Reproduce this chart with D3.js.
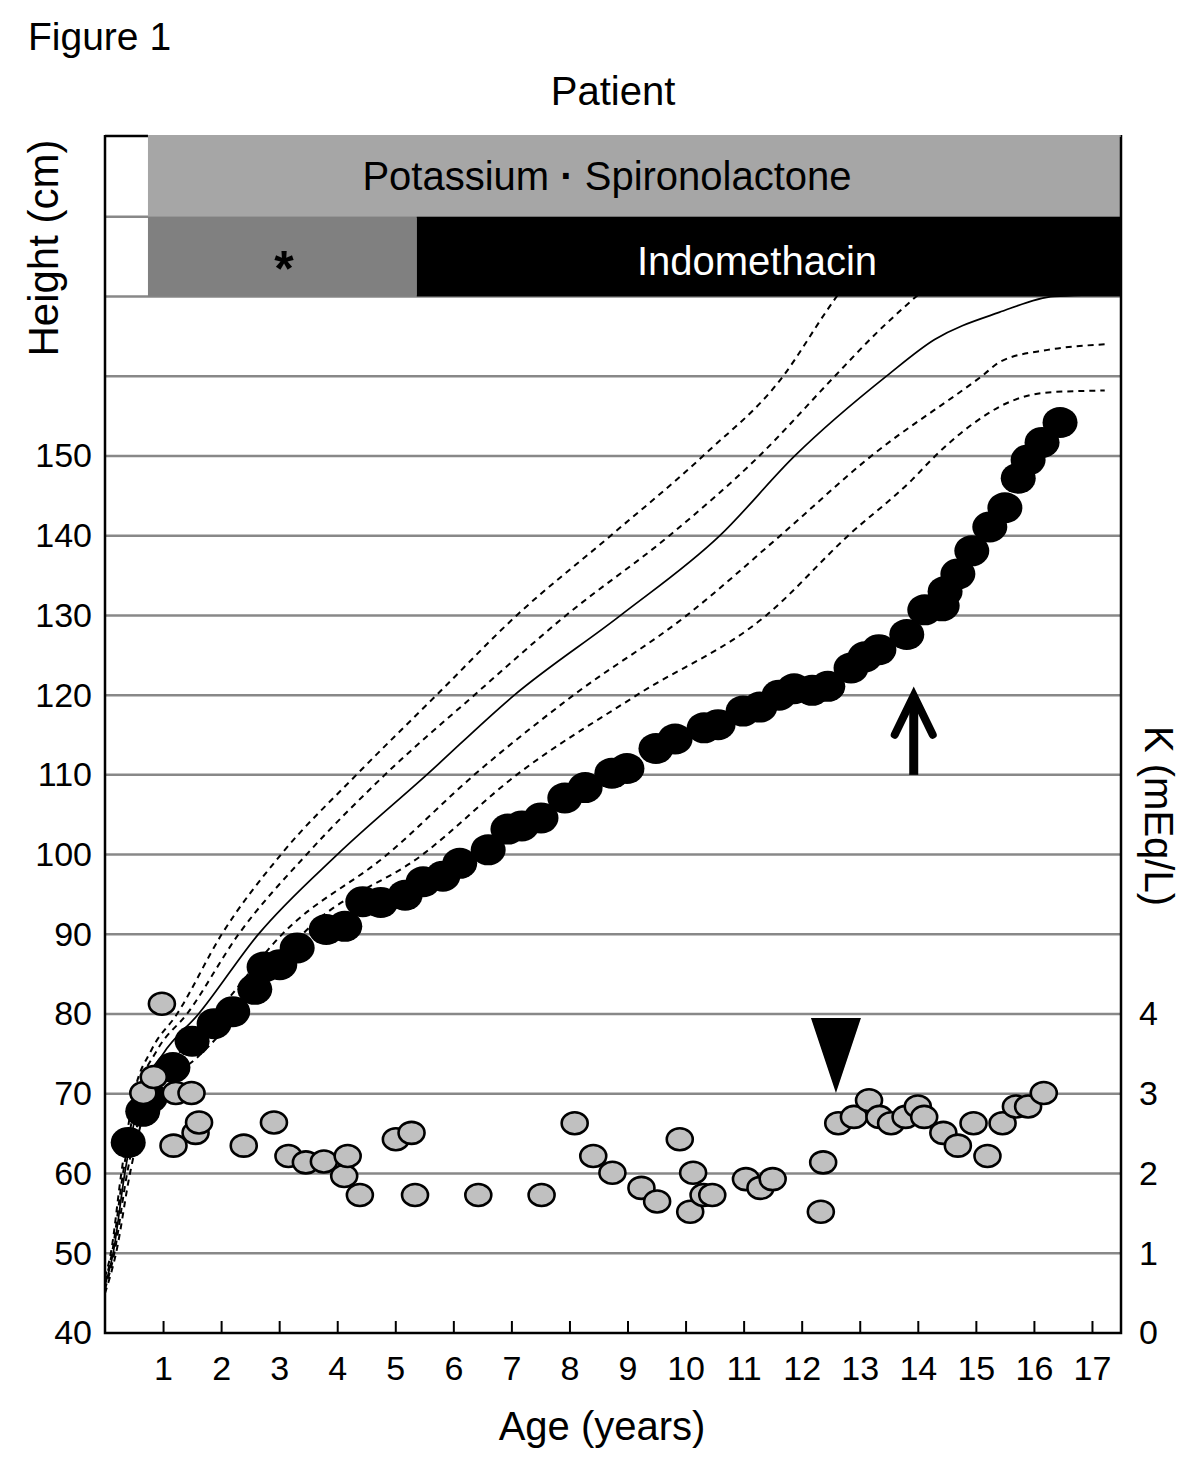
<!DOCTYPE html>
<html><head><meta charset="utf-8">
<script src="https://cdn.jsdelivr.net/npm/d3@7"></script>
<style>body{margin:0;background:#fff}svg{display:block}text{font-family:"Liberation Sans",Arial,sans-serif}</style>
</head><body>
<svg id="c" width="1200" height="1459"></svg>
<script>
// ---- data ----
const ageTicks = [1,2,3,4,5,6,7,8,9,10,11,12,13,14,15,16,17];
const heightTicks = [40,50,60,70,80,90,100,110,120,130,140,150];
const kTicks = [0,1,2,3,4];
const gridHeights = [50,60,70,80,90,100,110,120,130,140,150,160,170,180];

// reference growth curves [age, height]
const sdPlus2 = [[0,47],[0.1,50],[0.28,60],[0.5,70],[0.8,75.5],[1.24,80],[2.01,90],[3.03,100],[4.33,110],[5.71,120],[7.09,130],[8.71,140],[10.3,150],[11.68,160],[12.44,168.3],[12.65,170.5]];
const sdPlus1 = [[0,46.5],[0.12,50],[0.31,60],[0.56,70],[0.9,75.5],[1.41,80],[2.3,90],[3.47,100],[4.82,110],[6.36,120],[7.94,130],[9.72,140],[11.27,150],[12.57,160],[13.3,165.5],[14.05,170.5]];
const sdMean  = [[0,46],[0.14,50],[0.34,60],[0.62,70],[1.0,75],[1.61,80],[2.64,90],[4.0,100],[5.54,110],[7.05,120],[8.88,130],[10.59,140],[11.88,150],[13.46,160],[14.29,164.6],[15.4,168],[16.35,170],[17.5,170.3]];
const sdMinus1 = [[0,45.5],[0.16,50],[0.38,60],[0.72,70],[1.2,74.5],[1.9,80],[3.05,90],[4.86,100],[6.36,110],[8.07,120],[10.02,130],[11.63,140],[13.2,150],[15.1,160],[15.44,161.9],[16.24,163.3],[17.22,164]];
const sdMinus2 = [[0,45],[0.19,50],[0.43,60],[0.8,70],[1.55,74.3],[2.3,80],[3.4,90],[5.47,100],[7.09,110],[9.16,120],[11.39,130],[12.8,140],[13.9,147],[14.3,150],[15.1,154.8],[15.44,156.3],[16.3,158],[17.22,158.2]];

// patient height
const heightAge = [0.40,0.65,0.78,1.17,1.50,1.88,2.20,2.58,2.74,3.01,3.31,3.81,4.13,4.44,4.75,5.17,5.48,5.82,6.11,6.60,6.94,7.18,7.51,7.92,8.27,8.73,8.99,9.49,9.82,10.32,10.56,10.99,11.28,11.61,11.87,12.18,12.45,12.85,13.09,13.33,13.81,14.12,14.42,14.47,14.69,14.93,15.24,15.50,15.73,15.90,16.14,16.45];
const heightCm  = [63.9,67.8,69.5,73.3,76.6,78.8,80.3,83.1,85.9,86.2,88.3,90.6,91.0,94.1,94.0,94.9,96.6,97.3,98.9,100.6,103.2,103.6,104.6,107.1,108.4,110.2,110.8,113.3,114.5,115.9,116.3,118.0,118.5,120.0,120.8,120.6,121.1,123.4,124.8,125.7,127.6,130.7,131.2,133.0,135.2,138.1,141.1,143.5,147.2,149.5,151.7,154.2];

// serum potassium
const kAge = [0.66,0.84,0.98,1.18,1.22,1.49,1.56,1.62,2.39,2.91,3.16,3.46,3.77,4.12,4.18,4.39,5.01,5.28,5.34,6.43,7.52,8.09,8.41,8.74,9.24,9.51,9.90,10.08,10.13,10.31,10.46,11.04,11.29,11.50,12.33,12.37,12.63,12.90,13.16,13.34,13.54,13.79,14.00,14.11,14.44,14.69,14.96,15.20,15.46,15.69,15.90,16.17];
const kValue = [3.01,3.21,4.13,2.35,3.01,3.01,2.51,2.64,2.35,2.64,2.22,2.14,2.15,1.97,2.22,1.73,2.43,2.51,1.73,1.73,1.73,2.63,2.22,2.01,1.82,1.65,2.43,1.52,2.01,1.73,1.73,1.93,1.82,1.93,1.52,2.14,2.63,2.71,2.92,2.71,2.63,2.71,2.84,2.71,2.51,2.35,2.63,2.22,2.63,2.84,2.84,3.01];

// treatment bars
const barTopLabel = ["Potassium", "\u00b7", "Spironolactone"];
const barTopSpan = [0.74, 17.5];
const barStarSpan = [0.74, 5.37];
const barIndoSpan = [5.37, 17.5];
const barTopRange = [180, 190];
const barBottomRange = [170, 180];

// annotations
const arrowAge = 13.93, arrowFrom = 110, arrowTo = 120.3;
const triAge = 12.59, triTipK = 3.01, triTopK = 3.95;

// ---- drawing ----
const svg = d3.select("#c");
const L = 105, R = 1121, T = 137, B = 1333;
const x = d3.scaleLinear().domain([0, 17.5]).range([L, R]);
const y = d3.scaleLinear().domain([40, 190]).range([B, T]);
const yK = d3.scaleLinear().domain([0, 15]).range([B, T]);
const FS = 34;
const FONT = '"Liberation Sans",Arial,sans-serif';

svg.append("defs").append("clipPath").attr("id","plot")
  .append("rect").attr("x",L).attr("y",T).attr("width",R-L).attr("height",B-T);

// grid
svg.append("g").selectAll("line").data(gridHeights).join("line")
  .attr("x1", L).attr("x2", R).attr("y1", d => y(d)).attr("y2", d => y(d))
  .attr("stroke", "#888").attr("stroke-width", 2.5);

// growth curves
const line = d3.line().x(d => x(d[0])).y(d => y(d[1])).curve(d3.curveMonotoneX);
const cg = svg.append("g").attr("clip-path","url(#plot)");
[[sdPlus2,true],[sdPlus1,true],[sdMean,false],[sdMinus1,true],[sdMinus2,true]].forEach(([c,dash]) => {
  cg.append("path").datum(c).attr("d", line).attr("fill","none")
    .attr("stroke","#000").attr("stroke-width", dash ? 2 : 1.7)
    .attr("stroke-dasharray", dash ? "6,5" : null);
});

// treatment bands
const bands = svg.append("g");
bands.append("rect").attr("x", x(barTopSpan[0])).attr("y", y(barTopRange[1]))
  .attr("width", x(barTopSpan[1]) - x(barTopSpan[0])).attr("height", y(barTopRange[0]) - y(barTopRange[1]))
  .attr("fill", "#a6a6a6");
bands.append("rect").attr("x", x(barStarSpan[0])).attr("y", y(barBottomRange[1]))
  .attr("width", x(barStarSpan[1]) - x(barStarSpan[0])).attr("height", y(barBottomRange[0]) - y(barBottomRange[1]))
  .attr("fill", "#808080");
bands.append("rect").attr("x", x(barIndoSpan[0])).attr("y", y(barBottomRange[1]))
  .attr("width", x(barIndoSpan[1]) - x(barIndoSpan[0])).attr("height", y(barBottomRange[0]) - y(barBottomRange[1]))
  .attr("fill", "#000");
const tp = bands.append("text").attr("x", 607).attr("y", 190).attr("text-anchor","middle")
  .attr("font-size", 40).attr("fill","#000");
tp.append("tspan").text(barTopLabel[0] + " ");
tp.append("tspan").attr("font-weight","bold").text(barTopLabel[1]);
tp.append("tspan").text(" " + barTopLabel[2]);
bands.append("text").attr("x", 757).attr("y", 275).attr("text-anchor","middle")
  .attr("font-size", 40).attr("fill","#fff").text("Indomethacin");
bands.append("text").attr("x", 284).attr("y", 286).attr("text-anchor","middle")
  .attr("font-size", 50).attr("font-weight","bold").attr("fill","#000").text("*");

// patient height dots
const hData = heightAge.map((a,i) => [a, heightCm[i]]);
svg.append("g").selectAll("ellipse").data(hData).join("ellipse")
  .attr("cx", d => x(d[0])).attr("cy", d => y(d[1])).attr("rx", 17.5).attr("ry", 15.5)
  .attr("fill", "#000");

// potassium dots
const kData = kAge.map((a,i) => [a, kValue[i]]);
svg.append("g").selectAll("ellipse").data(kData).join("ellipse")
  .attr("cx", d => x(d[0])).attr("cy", d => yK(d[1])).attr("rx", 13).attr("ry", 11)
  .attr("fill", "#c0c0c0").attr("stroke","#000").attr("stroke-width", 2.6);

// arrow
const ax = x(arrowAge);
svg.append("line").attr("x1", ax).attr("x2", ax).attr("y1", y(arrowFrom)).attr("y2", y(arrowTo) + 6)
  .attr("stroke","#000").attr("stroke-width", 9);
svg.append("path").attr("d", `M${ax-19},${y(arrowTo)+42} L${ax},${y(arrowTo)+3} L${ax+19},${y(arrowTo)+42}`)
  .attr("fill","none").attr("stroke","#000").attr("stroke-width", 8).attr("stroke-linecap","round").attr("stroke-linejoin","miter");

// triangle
const tx = x(triAge);
svg.append("path").attr("d", `M${tx-25},${yK(triTopK)} L${tx+25},${yK(triTopK)} L${tx},${yK(triTipK)} Z`).attr("fill","#000");

// frame
svg.append("path").attr("d", `M${L},${T-2} L${L},${B} L${R},${B} L${R},${T-2}`)
  .attr("fill","none").attr("stroke","#000").attr("stroke-width", 2.5);
svg.append("line").attr("x1", L).attr("x2", x(barTopSpan[0])).attr("y1", T-1).attr("y2", T-1)
  .attr("stroke","#000").attr("stroke-width", 2.5);
svg.append("line").attr("x1", x(barTopSpan[0])).attr("x2", R).attr("y1", T-1).attr("y2", T-1)
  .attr("stroke","#888").attr("stroke-width", 1.5);

// axes
const xAxis = svg.append("g").attr("transform", `translate(0,${B})`)
  .call(d3.axisBottom(x).tickValues(ageTicks).tickSizeInner(-12).tickSizeOuter(0).tickPadding(23));
xAxis.select(".domain").remove();
xAxis.selectAll(".tick line").attr("stroke","#000").attr("stroke-width",2);
xAxis.selectAll("text").attr("font-size", FS).attr("fill","#000").attr("font-family",FONT);

const yAxis = svg.append("g").attr("transform", `translate(${L},0)`)
  .call(d3.axisLeft(y).tickValues(heightTicks).tickSize(0).tickPadding(13));
yAxis.select(".domain").remove();
yAxis.selectAll("text").attr("font-size", FS).attr("fill","#000").attr("font-family",FONT);

const kAxis = svg.append("g").attr("transform", `translate(${R},0)`)
  .call(d3.axisRight(yK).tickValues(kTicks).tickSize(0).tickPadding(18).tickFormat(d3.format("d")));
kAxis.select(".domain").remove();
kAxis.selectAll("text").attr("font-size", FS).attr("fill","#000").attr("font-family",FONT);

// titles
svg.append("text").attr("x", 28).attr("y", 50).attr("font-size", 39).text("Figure 1");
svg.append("text").attr("x", 613).attr("y", 105).attr("text-anchor","middle").attr("font-size", 40).text("Patient");
svg.append("text").attr("transform","translate(58,248) rotate(-90)").attr("text-anchor","middle").attr("font-size", 42).text("Height (cm)");
svg.append("text").attr("transform","translate(1145,816) rotate(90)").attr("text-anchor","middle").attr("font-size", 40).text("K (mEq/L)");
svg.append("text").attr("x", 602).attr("y", 1440).attr("text-anchor","middle").attr("font-size", 40).text("Age (years)");
</script>
</body></html>
